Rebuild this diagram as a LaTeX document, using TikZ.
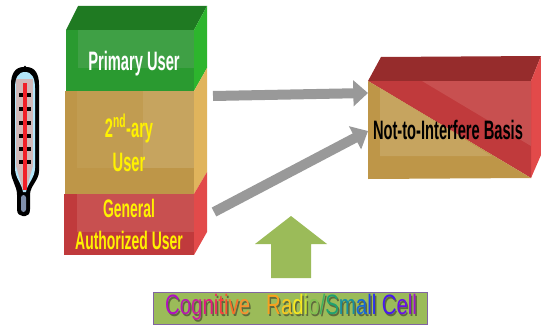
\documentclass[tikz,border=0pt]{standalone}
\usepackage{fontspec}
\setmainfont{Liberation Sans}
\newfontfamily\nar[FakeStretch=0.55]{Liberation Sans}
\newfontfamily\nam[FakeStretch=0.73]{Liberation Sans}
\usetikzlibrary{arrows.meta}
\newcommand{\cl}[2]{\textcolor[HTML]{#1}{#2}}
\newcommand{\rainbowtext}{\cl{B010C0}{C}\cl{B818B0}{o}\cl{C8209C}{g}\cl{E01880}{n}\cl{F02860}{i}\cl{F84040}{t}\cl{F85030}{i}\cl{F87028}{v}\cl{F89030}{e}\hspace{12pt}\cl{F8A020}{R}\cl{F8C820}{a}\cl{F8E820}{d}\cl{C8E030}{i}\cl{80C050}{o}\cl{40B060}{/}\cl{20A070}{S}\cl{1890A0}{m}\cl{1868D8}{a}\cl{2040F0}{l}\cl{2828F8}{l}\hspace{4pt}\cl{4818F0}{C}\cl{6810E8}{e}\cl{8810E0}{l}\cl{A010D0}{l}}
\newcommand{\shadowtext}{\textcolor[HTML]{5E6A3C}{Cognitive\hspace{12pt}Radio/Small\hspace{4pt}Cell}}
\definecolor{flowgray}{HTML}{999999}
\definecolor{grnD}{HTML}{1F7A22}
\definecolor{grnM}{HTML}{2A9A30}
\definecolor{grnL}{HTML}{3FA045}
\definecolor{grnS}{HTML}{2DB52D}
\definecolor{tanD}{HTML}{BE9648}
\definecolor{tanL}{HTML}{C6A45F}
\definecolor{tanS}{HTML}{E0B45C}
\definecolor{redD}{HTML}{C03A3C}
\definecolor{redL}{HTML}{C85050}
\definecolor{redS}{HTML}{E24A4A}
\definecolor{redT}{HTML}{962C2C}
\definecolor{olive}{HTML}{9BBB59}
\definecolor{plum}{HTML}{8064A2}
\tikzset{
  x=0.75pt,y=-0.75pt,
  lab/.style={font=\nar\bfseries\fontsize{20}{23}\selectfont,align=center,inner sep=0pt},
  flow/.style={draw=flowgray,line width=7.5pt,-{Triangle[length=11pt,width=19pt]}},
}
\begin{document}
\begin{tikzpicture}
\useasboundingbox (0,0) rectangle (541,328);
% thermometer
\fill[black,rounded corners=1pt] (25,67) .. controls (15,67) and (11,74) .. (11,86) -- (11,170) .. controls (11,180) and (17,186) .. (17,196) -- (17,208) .. controls (17,214) and (20,216) .. (24,216) .. controls (28,216) and (30,214) .. (30,208) -- (30,196) .. controls (30,186) and (39,180) .. (39,170) -- (39,86) .. controls (39,74) and (35,67) .. (25,67) -- cycle;
\fill[fill=cyan!30!white] (25,72) .. controls (18,72) and (15,78) .. (15,88) -- (15,168) .. controls (15,178) and (22,184) .. (23,192) -- (26,192) .. controls (27,184) and (35,178) .. (35,168) -- (35,88) .. controls (35,78) and (32,72) .. (25,72) -- cycle;
\fill[fill={rgb,255:red,208;green,184;blue,184}] (16,79) rectangle (33,166);
\fill[fill={rgb,255:red,208;green,184;blue,184}] (16,166) -- (33,166) -- (26,190) -- (23,190) -- cycle;
\foreach \yy in {95,109,123,136,149,162} \fill[black] (19,\yy-2) rectangle (31,\yy+2);
\fill[fill={rgb,255:red,240;green,32;blue,40}] (23,83) rectangle (27,190);
\fill[fill={rgb,255:red,128;green,144;blue,172},rounded corners=2pt] (21,195) rectangle (26,212);
% left block: top and sides
\fill[grnD] (66,30) -- (78,6) -- (207,6) -- (194,30) -- cycle;
\fill[grnS] (194,30) -- (207,6) -- (207,68) -- (194,91) -- cycle;
\fill[tanS] (194,91) -- (207,68) -- (207,172) -- (194,194) -- cycle;
\fill[redS] (194,194) -- (207,172) -- (207,232) -- (194,255) -- cycle;
% left block: front layers
\fill[grnM] (66,30) rectangle (194,91);
\fill[grnL] (78,30) rectangle (194,68);
\fill[tanD] (65,91) rectangle (194,194);
\fill[tanL] (77,91) rectangle (194,168);
\fill[tanD!60!tanL] (77,91) rectangle (143,168);
\fill[redD] (64,194) rectangle (194,255);
\fill[redL] (77,194) rectangle (194,232);
% right block
\fill[redT] (368,81) -- (381,57) -- (541,56) -- (531,81) -- cycle;
\fill[redS] (531,81) -- (541,56) -- (541,155) -- (531,178) -- cycle;
\fill[redD] (368,81) -- (531,81) -- (531,178) -- cycle;
\fill[redL] (422,81) -- (531,81) -- (531,146) -- cycle;
\fill[tanD] (368,81) -- (531,178) -- (368,179) -- cycle;
\fill[tanL] (380,88) -- (492,156) -- (380,156) -- cycle;
% nodes
\node[lab,white] (pu) at (134,64) {Primary User};
\node[lab,yellow] (su) at (129,143) {2\textsuperscript{nd}-ary\\[3pt]User};
\node[lab,yellow,font=\nar\bfseries\fontsize{19}{21}\selectfont] (gu) at (129,224) {General\\[3pt]Authorized User};
\node[lab,black] (nb) at (448,130) {Not-to-Interfere Basis};
% flow arrows
\coordinate (a1s) at (213,96);
\coordinate (a1e) at (368,93);
\coordinate (a2s) at (214,212);
\coordinate (a2e) at (368,131);
\draw[flow] (a1s) -- (a1e);
\draw[flow] (a2s) -- (a2e);
% up arrow
\fill[olive] (291,216) -- (327,244) -- (311,244) -- (311,278) -- (271,278) -- (271,244) -- (255,244) -- cycle;
% banner
\node[draw=plum,fill=olive,line width=0.8pt,minimum width=205pt,minimum height=24pt,inner sep=0pt] (cr) at (290.5,308.5) {};
\node[inner sep=0pt,font=\nam\fontsize{21}{23}\selectfont] at (292.5,309) {\shadowtext};
\node[inner sep=0pt,font=\nam\fontsize{21}{23}\selectfont] at (291,307) {\rainbowtext};
\end{tikzpicture}
\end{document}
